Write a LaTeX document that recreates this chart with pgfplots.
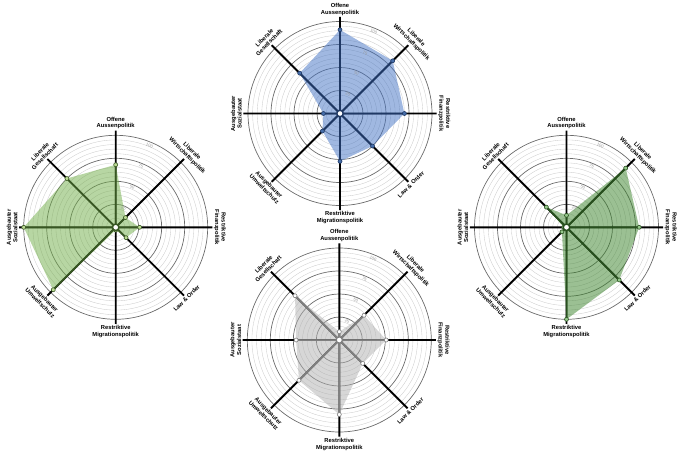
\documentclass[border=0pt]{standalone}
\usepackage{fontspec}
\setmainfont{Liberation Sans}
\usepackage{pgfplots}
\pgfplotsset{compat=1.18}
\usepackage{pgfplotstable}
\usepgfplotslibrary{polar}

% smartspider colours
\definecolor{bluefill}{RGB}{66,114,196}
\definecolor{blueline}{RGB}{31,56,100}
\definecolor{bluemark}{RGB}{70,110,170}
\definecolor{lgfill}{RGB}{112,173,71}
\definecolor{lgline}{RGB}{56,87,35}
\definecolor{lgmark}{RGB}{190,220,150}
\definecolor{dgfill}{RGB}{56,130,40}
\definecolor{dgline}{RGB}{40,80,30}
\definecolor{dgmark}{RGB}{150,200,140}
\definecolor{grfill}{RGB}{175,175,175}
\definecolor{grline}{RGB}{128,128,128}

% angle value (Aussen, Wirtschaft, Finanz, Law&Order, Migration, Umwelt, Sozial, Gesellschaft)
\pgfplotstableread{
a v
90 91
45 81
0 70
315 50
270 52
225 27
180 18
135 62
}\blau
\pgfplotstableread{
a v
90 68
45 15
0 26
315 16
270 3
225 96
180 100
135 75
}\hellgruen
\pgfplotstableread{
a v
90 13
45 91
0 79
315 81
270 100
225 7
180 3
135 31
}\dunkelgruen
\pgfplotstableread{
a v
90 9
45 38
0 51
315 36
270 81
225 62
180 47
135 68
}\grau
% axis spokes, reaching a bit past the 100 ring
\pgfplotstableread{
a v
0 105
45 105
90 105
135 105
180 105
225 105
270 105
315 105
}\speichen

\pgfplotsset{
  spider/.style={
    anchor=center, scale only axis, width=193.2pt, height=193.2pt,
    xmin=0, xmax=360, ymin=0, ymax=105, clip=false,
    xtick={0,45,...,315}, xticklabels={},
    ytick={25,50,75,100}, yticklabels={},
    minor ytick={5,10,15,20,30,35,40,45,55,60,65,70,80,85,90,95},
    ymajorgrids, yminorgrids,
    major y grid style={black!58, line width=0.7pt},
    minor y grid style={black!20, line width=0.35pt},
    axis line style={draw=none},
    tick style={draw=none},
  },
}
\tikzset{
  lab/.style={font=\fontsize{5.8}{6.6}\selectfont\bfseries, align=center, inner sep=0.5pt},
  tnum/.style={font=\fontsize{4.2}{5}\selectfont, text=black!40, inner sep=0pt, rotate=-22.5},
}

\newcommand\spiderlabels{%
  \node[lab, anchor=south] at (axis cs:90,106) {Offene\\Aussenpolitik};
  \node[lab, anchor=south, rotate=-45] at (axis cs:45,106) {Liberale\\Wirtschaftspolitik};
  \node[lab, anchor=south, rotate=-90] at (axis cs:0,106) {Restriktive\\Finanzpolitik};
  \node[lab, anchor=north, rotate=45] at (axis cs:315,106) {Law \& Order};
  \node[lab, anchor=north] at (axis cs:270,106) {Restriktive\\Migrationspolitik};
  \node[lab, anchor=north, rotate=-45] at (axis cs:225,106) {Ausgebauter\\Umweltschutz};
  \node[lab, anchor=south, rotate=90] at (axis cs:180,106) {Ausgebauter\\Sozialstaat};
  \node[lab, anchor=south, rotate=45] at (axis cs:135,106) {Liberale\\Gesellschaft};
  \node[tnum] at (axis cs:67.5,96) {100};
  \node[tnum] at (axis cs:67.5,71.5) {75};
  \node[tnum] at (axis cs:67.5,47) {50};
  \node[tnum] at (axis cs:67.5,22.5) {25};
}
\newcommand\spokes{%
  \addplot[polar comb, black, line width=1.9pt, mark=none] table[x=a, y=v] {\speichen};
}

\begin{document}
\begin{tikzpicture}
\useasboundingbox (0,0) rectangle (680pt,456pt);

%%% oben, blau
\begin{polaraxis}[spider, at={(340pt,342.5pt)}]
\spokes
\addplot[fill=bluefill, fill opacity=0.5, draw=none] table[x=a, y=v] {\blau};
\addplot[polar comb, draw=blueline, line width=1.5pt, mark=*, mark size=2pt,
  mark options={fill=bluemark, draw=blueline, line width=0.6pt}] table[x=a, y=v] {\blau};
\addplot[only marks, mark=*, mark size=3.2pt,
  mark options={fill=white, draw=blueline, line width=1.4pt}] coordinates {(0,0)};
\spiderlabels
\end{polaraxis}

%%% links, hellgruen
\begin{polaraxis}[spider, at={(115.7pt,228.7pt)}]
\spokes
\addplot[fill=lgfill, fill opacity=0.5, draw=none] table[x=a, y=v] {\hellgruen};
\addplot[polar comb, draw=lgline, line width=1.5pt, mark=*, mark size=2pt,
  mark options={fill=lgmark, draw=lgline, line width=0.6pt}] table[x=a, y=v] {\hellgruen};
\addplot[only marks, mark=*, mark size=3.2pt,
  mark options={fill=white, draw=lgline, line width=1.4pt}] coordinates {(0,0)};
\spiderlabels
\end{polaraxis}

%%% rechts, dunkelgruen
\begin{polaraxis}[spider, at={(566.5pt,228.7pt)}]
\spokes
\addplot[fill=dgfill, fill opacity=0.5, draw=none] table[x=a, y=v] {\dunkelgruen};
\addplot[polar comb, draw=dgline, line width=1.5pt, mark=*, mark size=2pt,
  mark options={fill=dgmark, draw=dgline, line width=0.6pt}] table[x=a, y=v] {\dunkelgruen};
\addplot[only marks, mark=*, mark size=3.2pt,
  mark options={fill=white, draw=dgline, line width=1.4pt}] coordinates {(0,0)};
\spiderlabels
\end{polaraxis}

%%% unten, grau
\begin{polaraxis}[spider, at={(339.3pt,116pt)}]
\spokes
\addplot[fill=grfill, fill opacity=0.5, draw=none] table[x=a, y=v] {\grau};
\addplot[polar comb, draw=grline, line width=1.5pt, mark=*, mark size=2pt,
  mark options={fill=white, draw=grline, line width=0.6pt}] table[x=a, y=v] {\grau};
\addplot[only marks, mark=*, mark size=3.2pt,
  mark options={fill=white, draw=grline, line width=1.4pt}] coordinates {(0,0)};
\spiderlabels
\end{polaraxis}

\end{tikzpicture}
\end{document}
